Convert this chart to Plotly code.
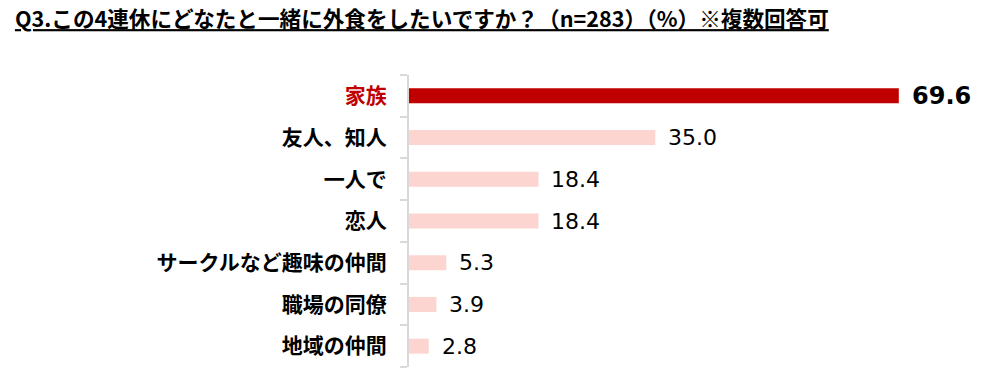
import plotly.graph_objects as go

categories = ["家族", "友人、知人", "一人で", "恋人", "サークルなど趣味の仲間", "職場の同僚", "地域の仲間"]
values = [69.6, 35.0, 18.4, 18.4, 5.3, 3.9, 2.8]
value_labels = ["69.6", "35.0", "18.4", "18.4", "5.3", "3.9", "2.8"]
title_text = "Q3.この4連休にどなたと一緒に外食をしたいですか？（n=283）（%）※複数回答可"

DARK = "#C00000"
PINK = "#FCD5D0"
FONT = "Noto Sans CJK JP"
NUMFONT = "DejaVu Sans"

colors = [DARK] + [PINK] * (len(values) - 1)

fig = go.Figure(go.Bar(
    x=values, y=categories, orientation="h",
    marker=dict(color=colors, line=dict(width=0)),
    hoverinfo="skip",
))

ticktext = [f"<span style='color:{DARK}'>{categories[0]}</span>"] + categories[1:]

for i, (v, lab) in enumerate(zip(values, value_labels)):
    fig.add_annotation(
        x=v, y=categories[i], text=f"<b>{lab}</b>" if i == 0 else lab,
        xanchor="left", yanchor="middle", showarrow=False, xshift=11,
        font=dict(family=NUMFONT, size=24 if i == 0 else 22, color="#000000"),
    )

fig.update_layout(
    width=995, height=391,
    margin=dict(l=409, r=23, t=75, b=24, autoexpand=False),
    paper_bgcolor="white", plot_bgcolor="white",
    bargap=0.64,
    showlegend=False,
    title=dict(text=f"<u><b>{title_text}</b></u>", x=0.015, xanchor="left",
               y=0.95, yanchor="middle",
               font=dict(family=FONT, size=21.6, color="#000000")),
    font=dict(family=FONT),
    xaxis=dict(range=[0, 80], visible=False, automargin=False),
    yaxis=dict(
        autorange="reversed", automargin=False,
        tickmode="array", tickvals=categories, ticktext=ticktext,
        tickfont=dict(family=FONT, size=21, color="#000000", weight="bold"),
        showline=True, linecolor="#D9D9D9", linewidth=2,
        ticks="outside", tickson="boundaries", ticklen=7, tickcolor="#D9D9D9", tickwidth=2,
        ticklabelstandoff=16, showgrid=False, zeroline=False,
    ),
)

fig.write_html("out.html", config={"displayModeBar": False},
               post_script="document.body.style.margin='0';")
